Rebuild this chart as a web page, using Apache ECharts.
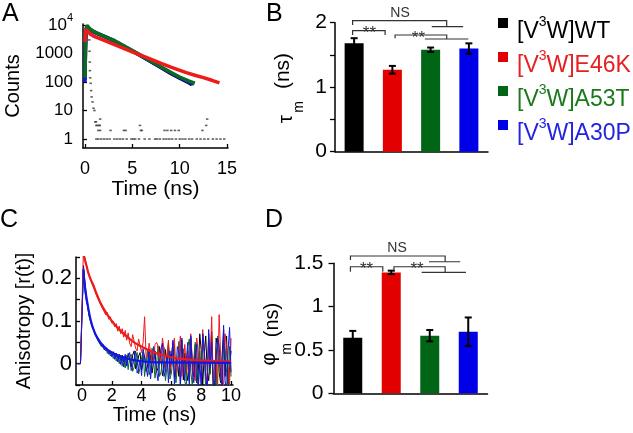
<!DOCTYPE html>
<html><head><meta charset="utf-8">
<script src="https://cdn.jsdelivr.net/npm/echarts@6/dist/echarts.min.js"></script>
<style>html,body{margin:0;padding:0;background:#fff}#c{width:633px;height:433px}</style>
</head><body><div id="c"></div><script>
// ---------- Panel A: fluorescence decays (counts) ----------
const tA_WT   = [0.0,0.05,0.1,0.2,0.3,0.5,0.8,1.2,2.0,3.0,4.0,5.0,6.0,7.0,8.0,9.0,10.0,11.0,11.3];
const cA_WT   = [120,1500,6000,9300,9000,7200,6100,5200,4000,2850,1880,1230,790,500,320,205,135,92,80];
const tA_A30P = [0.0,0.05,0.1,0.2,0.3,0.5,0.8,1.2,2.0,3.0,4.0,5.0,6.0,7.0,8.0,9.0,10.0,11.0,11.5];
const cA_A30P = [100,1200,5500,9000,8800,7100,6000,5150,4050,2900,1920,1250,810,515,330,215,142,98,85];
const tA_A53T = [0.0,0.05,0.1,0.2,0.3,0.5,0.8,1.2,2.0,3.0,4.0,5.0,6.0,7.0,8.0,9.0,10.0,11.0,11.6];
const cA_A53T = [140,1600,6200,9800,9200,7400,6300,5400,4100,2950,1950,1280,830,530,345,225,150,108,92];
const tA_E46K = [0.0,0.1,0.2,0.35,0.6,0.9,1.3,1.9,2.8,3.7,4.6,5.5,6.4,7.2,8.1,9.0,9.8,10.7,11.6,12.5,13.4,14.2];
const cA_E46K = [2500,7000,8200,5600,4700,4100,3600,3000,2250,1700,1280,970,740,580,445,340,270,213,172,142,115,93];
// instrument response (scattered low counts)
const tIRF = [0.45,0.48,0.5,0.52,0.55,0.6,0.65,0.7,0.8,0.9,1.0,1.1,1.15,1.3,1.55,1.6,
  1.2,1.4,1.7,2.0,2.3,2.6,3.1,3.4,3.7,4.0,4.4,4.9,5.1,5.3,5.7,6.3,6.8,7.4,7.6,7.9,8.3,8.6,8.9,9.2,9.6,10.0,10.3,10.6,11.0,11.3,11.8,12.2,12.6,13.0,13.5,13.9,14.3,14.7,
  1.4,1.6,2.7,4.1,4.3,5.9,6.0,8.4,8.7,9.1,9.5,9.9,12.4,
  1.2,1.5,5.8,12.8,12.9];
const cIRF = [3000,1200,500,250,140,90,50,30,20,12,10,4,4,3,3,5,
  1,1,1,1,1,1,1,1,1,1,1,1,1,1,1,1,1,1,1,1,1,1,1,1,1,1,1,1,1,1,1,1,1,1,1,1,1,1,
  2,2,2,2,2,2,2,2,2,2,2,2,2,
  3,3,3,3,5];
const countTicks = [0,1,2,3,4]; // log10 of 1,10,100,1000,10^4

// ---------- Panel B / D: bars ----------
const variants = ['WT','E46K','A53T','A30P'];
const tauM   = [1.68, 1.27, 1.58, 1.60];
const tauErr = [0.08, 0.06, 0.035, 0.08];
const phiM   = [0.64, 1.395, 0.665, 0.71];
const phiErr = [0.08, 0.02, 0.065, 0.165];

// ---------- Panel C: anisotropy decays ----------
const tC = [-0.3,-0.2,-0.1,0,
 0.1,0.2,0.3,0.4,0.5,0.6,0.7,0.8,0.9,1.0,
 1.1,1.2,1.3,1.4,1.5,1.6,1.7,1.8,1.9,2.0,
 2.1,2.2,2.3,2.4,2.5,2.6,2.7,2.8,2.9,3.0,
 3.1,3.2,3.3,3.4,3.5,3.6,3.7,3.8,3.9,4.0,
 4.1,4.2,4.3,4.4,4.5,4.6,4.7,4.8,4.9,5.0,
 5.1,5.2,5.3,5.4,5.5,5.6,5.7,5.8,5.9,6.0,
 6.1,6.2,6.3,6.4,6.5,6.6,6.7,6.8,6.9,7.0,
 7.1,7.2,7.3,7.4,7.5,7.6,7.7,7.8,7.9,8.0,
 8.1,8.2,8.3,8.4,8.5,8.6,8.7,8.8,8.9,9.0,
 9.1,9.2,9.3,9.4,9.5,9.6,9.7,9.8,9.9,10.0];
const rC_WT = [0,0,0,0,
 0.23,0.19,0.155,0.13,0.11,0.098,0.087,0.078,0.07,0.063,
 0.058,0.05,0.048,0.04,0.041,0.033,0.036,0.027,0.031,0.022,
 0.028,0.016,0.025,0.012,0.022,0.008,0.02,0.004,0.018,-0.002,
 0.024,0.01,-0.008,0.02,0.03,-0.012,-0.004,0.018,0.026,-0.015,
 0.004,0.02,-0.018,-0.006,0.035,0.015,-0.022,0.002,0.03,-0.02,
 -0.01,0.04,0.012,-0.028,-0.012,0.033,0,0.045,-0.025,0.018,
 0.05,-0.032,-0.005,0.008,-0.03,0.04,0.055,-0.038,0.025,-0.015,
 -0.04,-0.01,0.06,0.005,-0.03,0.045,-0.045,-0.02,0.07,0.03,
 -0.05,0.02,0.065,-0.015,-0.04,0.01,0.075,-0.03,-0.055,0.06,
 0.04,-0.02,-0.045,0.02,0.08,-0.03,0.065,-0.06,-0.01,0.03];
const rC_A53T = [0,0,0,0,
 0.22,0.185,0.15,0.128,0.108,0.095,0.084,0.076,0.066,0.062,
 0.052,0.052,0.04,0.045,0.032,0.038,0.024,0.032,0.018,0.028,
 0.012,0.024,0.006,0.022,0,0.02,-0.006,0.018,-0.01,0.02,
 -0.014,0.016,0.022,-0.018,-0.008,0.012,0.026,-0.024,-0.01,0.014,
 0.028,-0.03,0.002,0.032,-0.026,-0.014,0.036,0.01,-0.034,-0.004,
 0.042,-0.03,-0.02,0.006,0.038,-0.04,-0.008,0.05,-0.036,-0.022,
 0.012,0.046,-0.045,-0.01,0.052,-0.05,0,0.035,-0.042,-0.055,
 0.04,0.058,-0.02,-0.05,0.01,0.05,-0.035,-0.06,0.03,-0.01,
 0.055,0.02,-0.06,-0.04,0.07,-0.025,0.05,-0.06,0,-0.06,
 0.065,0.015,-0.035,-0.06,0.055,0.03,-0.02,-0.06,0.04,-0.03];
const rC_E46K = [0,0,0,0,
 0.27,0.248,0.232,0.214,0.206,0.193,0.19,0.176,0.172,0.158,
 0.156,0.142,0.143,0.128,0.13,0.114,0.12,0.104,0.11,0.095,
 0.1,0.086,0.094,0.076,0.088,0.07,0.082,0.062,0.078,0.055,
 0.072,0.048,0.04,0.068,0.066,0.036,0.03,0.058,0.062,0.026,
 0.05,0.11,0.02,0.015,0.048,0.052,0.01,0.005,0.045,0.05,
 0.042,0,0.008,0.06,0.035,-0.01,0.012,0.055,-0.015,0,
 0.03,0.06,-0.025,-0.005,0.025,0.065,-0.03,0.005,0.045,-0.02,
 0.03,-0.035,0.07,0.01,-0.02,-0.04,0.06,0.025,-0.01,-0.045,
 0.08,0.03,-0.015,-0.05,0.06,0,0.11,-0.04,-0.02,0.03,
 -0.05,0.115,0.02,-0.03,-0.055,0.07,0.04,-0.01,-0.05,0.06];
const rC_A30P = [0,0,0,0,
 0.225,0.17,0.145,0.135,0.112,0.1,0.086,0.079,0.07,0.06,
 0.058,0.049,0.05,0.038,0.042,0.03,0.035,0.022,0.03,0.016,
 0.026,0.01,0.024,0.004,0.02,-0.002,0.018,-0.008,0.022,-0.006,
 0.018,0.026,-0.016,-0.004,0.012,0.03,-0.022,-0.012,0.008,-0.028,
 0.034,0.016,-0.006,-0.03,0.028,-0.036,0,0.04,0.012,-0.016,
 -0.04,0.004,0.035,0.048,-0.03,-0.018,0.02,-0.045,0.03,0,
 0.055,-0.048,-0.012,0.04,0.025,-0.05,0.06,-0.02,-0.04,0.01,
 0.05,-0.055,0.065,-0.015,-0.045,0.02,0.045,-0.06,0,-0.05,
 0.07,0.035,-0.03,-0.06,0.08,-0.01,0.05,-0.05,-0.065,0.02,
 0.06,0.045,-0.02,-0.06,0.09,-0.04,-0.065,0.03,0.085,-0.02];
// fitted curves drawn over the noisy traces
const tFitE46K = [0.1,0.3,0.5,0.75,1.0,1.4,2.0,2.5,3.0,3.5,4.0,4.5,5.0,6.0,7.0,8.0,10.0];
const rFitE46K = [0.255,0.23,0.205,0.185,0.162,0.132,0.1,0.08,0.064,0.05,0.04,0.031,0.024,0.015,0.01,0.007,0.005];
const tFitA30P = [0.1,0.2,0.4,0.6,0.8,1.0,1.4,2.0,3.0,4.0,5.0,10.0];
const rFitA30P = [0.22,0.18,0.135,0.1,0.078,0.063,0.043,0.026,0.012,0.006,0.003,0.002];

// ---------- styles ----------
const FONT = '"Liberation Sans", Arial, Helvetica, sans-serif';
const NARROW = '"Liberation Sans Narrow", "Arial Narrow", "Liberation Sans", Arial, sans-serif';
const COL = {WT:'#000000', E46K:'#ef1a1a', A53T:'#0b6b1e', A30P:'#1414e6'};
const barColors = ['#000000','#e30000','#006616','#0000e8'];
const legendColors = ['#000000','#e62020','#1a7a1a','#2323e0'];

const pair = (ts, vs, f) => ts.map((t, i) => [t, f ? f(vs[i]) : vs[i]]);
const lg = v => Math.log10(v);
const axLine = {show:true, onZero:false, lineStyle:{color:'#000', width:1.5}};
const tickIn = {show:true, inside:true, length:4, lineStyle:{color:'#000', width:1.3}};
const tickOut = {show:true, inside:false, length:5, lineStyle:{color:'#000', width:1.3}};
const lbl = (size, margin) => ({color:'#000', fontSize:size, fontFamily:FONT, margin:margin});

function errRender(params, api) {
  const i = api.value(0), m = api.value(1), e = api.value(2);
  const top = api.coord([i, m + e]), bot = api.coord([i, m - e]);
  const cw = 3.5, st = {stroke:'#000', lineWidth:2};
  return {type:'group', children:[
    {type:'line', shape:{x1:top[0], y1:top[1], x2:bot[0], y2:bot[1]}, style:st},
    {type:'line', shape:{x1:top[0]-cw, y1:top[1], x2:top[0]+cw, y2:top[1]}, style:st},
    {type:'line', shape:{x1:bot[0]-cw, y1:bot[1], x2:bot[0]+cw, y2:bot[1]}, style:st}
  ]};
}
// significance annotations (category position, value)
const annB = {
  brackets:[{x1:-0.04,x2:2.42,y:2.031,l1:1.964,l2:1.938},{x1:-0.04,x2:0.81,y:1.876,l1:1.809,l2:1.809},{x1:1.07,x2:2.42,y:1.809,l1:1.758,l2:1.747}],
  groups:[{x1:2.03,x2:2.85,y:1.938},{x1:1.85,x2:2.985,y:1.747}],
  texts:[{x:1.2,y:2.031,s:'NS'},{x:0.40,y:1.876,s:'**'},{x:1.68,y:1.809,s:'**'}]
};
const annD = {
  brackets:[{x1:-0.06,x2:2.40,y:1.584,l1:1.537,l2:1.518},{x1:-0.06,x2:0.78,y:1.46,l1:1.403,l2:1.403},{x1:1.07,x2:2.40,y:1.46,l1:1.403,l2:1.396}],
  groups:[{x1:1.98,x2:2.79,y:1.518},{x1:1.79,x2:2.94,y:1.396}],
  texts:[{x:1.15,y:1.584,s:'NS'},{x:0.36,y:1.46,s:'**'},{x:1.67,y:1.46,s:'**'}]
};
function annRender(ann) {
  return function(params, api) {
    const P = (x, y) => api.coord([x, y]);
    const st = {stroke:'#333', lineWidth:1.2, fill:null};
    const ch = [];
    ann.brackets.forEach(b => {
      const a = P(b.x1, b.y), c = P(b.x2, b.y), al = P(b.x1, b.l1), cl = P(b.x2, b.l2);
      ch.push({type:'polyline', shape:{points:[al, a, c, cl]}, style:st});
    });
    ann.groups.forEach(g => {
      const a = P(g.x1, g.y), c = P(g.x2, g.y);
      ch.push({type:'line', shape:{x1:a[0], y1:a[1], x2:c[0], y2:c[1]}, style:st});
    });
    ann.texts.forEach(t => {
      const p = P(t.x, t.y);
      const star = t.s === '**';
      ch.push({type:'text', x:p[0], y: star ? p[1] + 3 : p[1] - 1,
        style:{text:t.s, fill:'#333', font: (star ? '17px ' : '14px ') + FONT, align:'center', verticalAlign: star ? 'middle' : 'bottom'}});
    });
    return {type:'group', children:ch};
  };
}

const lineS = (name, ts, vs, color, w, xi, yi, f, extra) => Object.assign({
  type:'line', name, xAxisIndex:xi, yAxisIndex:yi, data:pair(ts, vs, f),
  showSymbol:false, symbol:'none', lineStyle:{color, width:w}, itemStyle:{color}, z:2
}, extra || {});

const option = {
  animation:false,
  backgroundColor:'#fff',
  grid:[
    {left:83, top:24, width:145, height:124},
    {left:335, top:22.7, width:153, height:129},
    {left:76, top:257, width:157, height:128},
    {left:333.5, top:263.3, width:154, height:130}
  ],
  xAxis:[
    {gridIndex:0, type:'value', min:-0.21, max:15.1, axisLine:axLine,
     axisTick:Object.assign({customValues:[0,5,10,15]}, tickIn),
     axisLabel:Object.assign({customValues:[0,5,10,15]}, lbl(18, 12)), splitLine:{show:false},
     name:'Time (ns)', nameLocation:'middle', nameGap:31, nameTextStyle:{color:'#000', fontSize:21, fontFamily:FONT}},
    {gridIndex:1, type:'category', data:variants, axisLine:axLine, axisTick:{show:false}, axisLabel:{show:false}},
    {gridIndex:2, type:'value', min:-0.4, max:10.13, axisLine:axLine,
     axisTick:Object.assign({customValues:[0,2,4,6,8,10]}, tickIn),
     axisLabel:Object.assign({customValues:[0,2,4,6,8,10]}, lbl(18, 2)), splitLine:{show:false},
     name:'Time (ns)', nameLocation:'middle', nameGap:18, nameTextStyle:{color:'#000', fontSize:20, fontFamily:FONT}},
    {gridIndex:3, type:'category', data:variants, axisLine:axLine, axisTick:{show:false}, axisLabel:{show:false}},
    {gridIndex:1, type:'value', min:-0.5, max:3.5, show:false},
    {gridIndex:3, type:'value', min:-0.5, max:3.5, show:false}
  ],
  yAxis:[
    {gridIndex:0, type:'value', min:-0.315, max:4.035, axisLine:axLine,
     axisTick:Object.assign({customValues:countTicks}, tickIn),
     axisLabel:Object.assign({customValues:countTicks,
       formatter: v => v === 4 ? '{b|10}{s|4}' : '{b|' + Math.round(Math.pow(10, v)) + '}',
       rich:{b:{fontSize:17, lineHeight:26, color:'#000', fontFamily:FONT},
             s:{fontSize:11, lineHeight:11, verticalAlign:'top', color:'#000', fontFamily:FONT}}}, lbl(17, 10)),
     splitLine:{show:false},
     name:'Counts', nameLocation:'middle', nameGap:60, nameTextStyle:{color:'#000', fontSize:20, fontFamily:FONT}},
    {gridIndex:1, type:'value', min:0, max:2, interval:0.5, axisLine:axLine, axisTick:tickOut,
     axisLabel:Object.assign({formatter: v => (Math.abs(v - Math.round(v)) < 1e-6 ? String(Math.round(v)) : '')}, lbl(21, 8)),
     splitLine:{show:false}},
    {gridIndex:2, type:'value', min:-0.05, max:0.25, interval:0.05, axisLine:axLine, axisTick:tickIn,
     axisLabel:Object.assign({formatter: v => { const r = Math.round(v * 100) / 100; return (r >= 0 && Math.abs(r * 10 - Math.round(r * 10)) < 1e-6) ? String(Math.round(r * 10) / 10) : ''; }}, lbl(22, 4)),
     splitLine:{show:false},
     name:'Anisotropy [r(t)]', nameLocation:'middle', nameGap:42, nameTextStyle:{color:'#000', fontSize:20, fontFamily:FONT}},
    {gridIndex:3, type:'value', min:0, max:1.5, interval:0.5, axisLine:axLine, axisTick:tickOut,
     axisLabel:lbl(21, 10), splitLine:{show:false}}
  ],
  series:[
    // Panel A
    {type:'scatter', name:'IRF', xAxisIndex:0, yAxisIndex:0, data:pair(tIRF, cIRF, lg), symbol:'rect', symbolSize:[2.5,1.6], itemStyle:{color:'#3a3a3a'}, z:1},
    lineS('WT', tA_WT, cA_WT, COL.WT, 3.5, 0, 0, lg),
    lineS('A30P', tA_A30P, cA_A30P, COL.A30P, 3.5, 0, 0, lg),
    lineS('A53T', tA_A53T, cA_A53T, COL.A53T, 3.5, 0, 0, lg),
    lineS('E46K', tA_E46K, cA_E46K, COL.E46K, 3.5, 0, 0, lg),
    // Panel B
    {type:'bar', xAxisIndex:1, yAxisIndex:1, barWidth:19,
     data:tauM.map((v, i) => ({value:v, itemStyle:{color:barColors[i]}}))},
    {type:'custom', xAxisIndex:1, yAxisIndex:1, renderItem:errRender, z:5,
     data:tauM.map((v, i) => [i, v, tauErr[i]])},
    {type:'custom', xAxisIndex:4, yAxisIndex:1, renderItem:annRender(annB), data:[[0, 0]], z:5},
    // Panel C
    lineS('WT', tC, rC_WT, COL.WT, 1, 2, 2),
    lineS('A53T', tC, rC_A53T, COL.A53T, 1, 2, 2),
    lineS('E46K', tC, rC_E46K, COL.E46K, 1, 2, 2),
    lineS('A30P', tC, rC_A30P, COL.A30P, 1, 2, 2),
    lineS('E46K fit', tFitE46K, rFitE46K, COL.E46K, 2.2, 2, 2, null, {smooth:true, z:3}),
    lineS('A30P fit', tFitA30P, rFitA30P, COL.A30P, 2.2, 2, 2, null, {smooth:true, z:3}),
    // Panel D
    {type:'bar', xAxisIndex:3, yAxisIndex:3, barWidth:19,
     data:phiM.map((v, i) => ({value:v, itemStyle:{color:barColors[i]}}))},
    {type:'custom', xAxisIndex:3, yAxisIndex:3, renderItem:errRender, z:5,
     data:phiM.map((v, i) => [i, v, phiErr[i]])},
    {type:'custom', xAxisIndex:5, yAxisIndex:3, renderItem:annRender(annD), data:[[0, 0]], z:5}
  ],
  graphic:[
    {type:'text', x:2, y:2, style:{text:'A', font:'25px ' + FONT, fill:'#000'}},
    {type:'text', x:266, y:2, style:{text:'B', font:'25px ' + FONT, fill:'#000'}},
    {type:'text', x:0, y:208, style:{text:'C', font:'25px ' + FONT, fill:'#000'}},
    {type:'text', x:265, y:208, style:{text:'D', font:'25px ' + FONT, fill:'#000'}},
    // y-axis titles of the bar panels
    {type:'text', x:283, y:71, rotation:Math.PI/2, style:{text:'(ns)', font:'21px ' + FONT, fill:'#000', align:'center', verticalAlign:'middle'}},
    {type:'text', x:286, y:119, rotation:Math.PI/2, style:{text:'τ', font:'21px ' + FONT, fill:'#000', align:'center', verticalAlign:'middle'}},
    {type:'text', x:299, y:107, rotation:Math.PI/2, style:{text:'m', font:'14px ' + FONT, fill:'#000', align:'center', verticalAlign:'middle'}},
    {type:'text', x:272, y:320, rotation:Math.PI/2, style:{text:'(ns)', font:'20px ' + FONT, fill:'#000', align:'center', verticalAlign:'middle'}},
    {type:'text', x:269, y:359, rotation:Math.PI/2, style:{text:'φ', font:'20px ' + FONT, fill:'#000', align:'center', verticalAlign:'middle'}},
    {type:'text', x:287, y:349, rotation:Math.PI/2, style:{text:'m', font:'14px ' + FONT, fill:'#000', align:'center', verticalAlign:'middle'}}
  ].concat(variants.map((name, i) => ({type:'group', children:[
    {type:'rect', shape:{x:498, y:18 + 34 * i, width:10, height:10}, style:{fill:barColors[i]}},
    {type:'text', x:517, y:32 + 34 * i, style:{
      text:'{m|[V}{s|3}{m|W]' + name + '}', align:'left', verticalAlign:'middle',
      rich:{m:{fontSize:23, lineHeight:34, fontFamily:NARROW, fill:legendColors[i]},
            s:{fontSize:14, lineHeight:14, verticalAlign:'top', fontFamily:NARROW, fill:legendColors[i]}}}}
  ]})))
};
const chart = echarts.init(document.getElementById('c'), null, {renderer:'canvas'});
chart.setOption(option);
</script></body></html>
